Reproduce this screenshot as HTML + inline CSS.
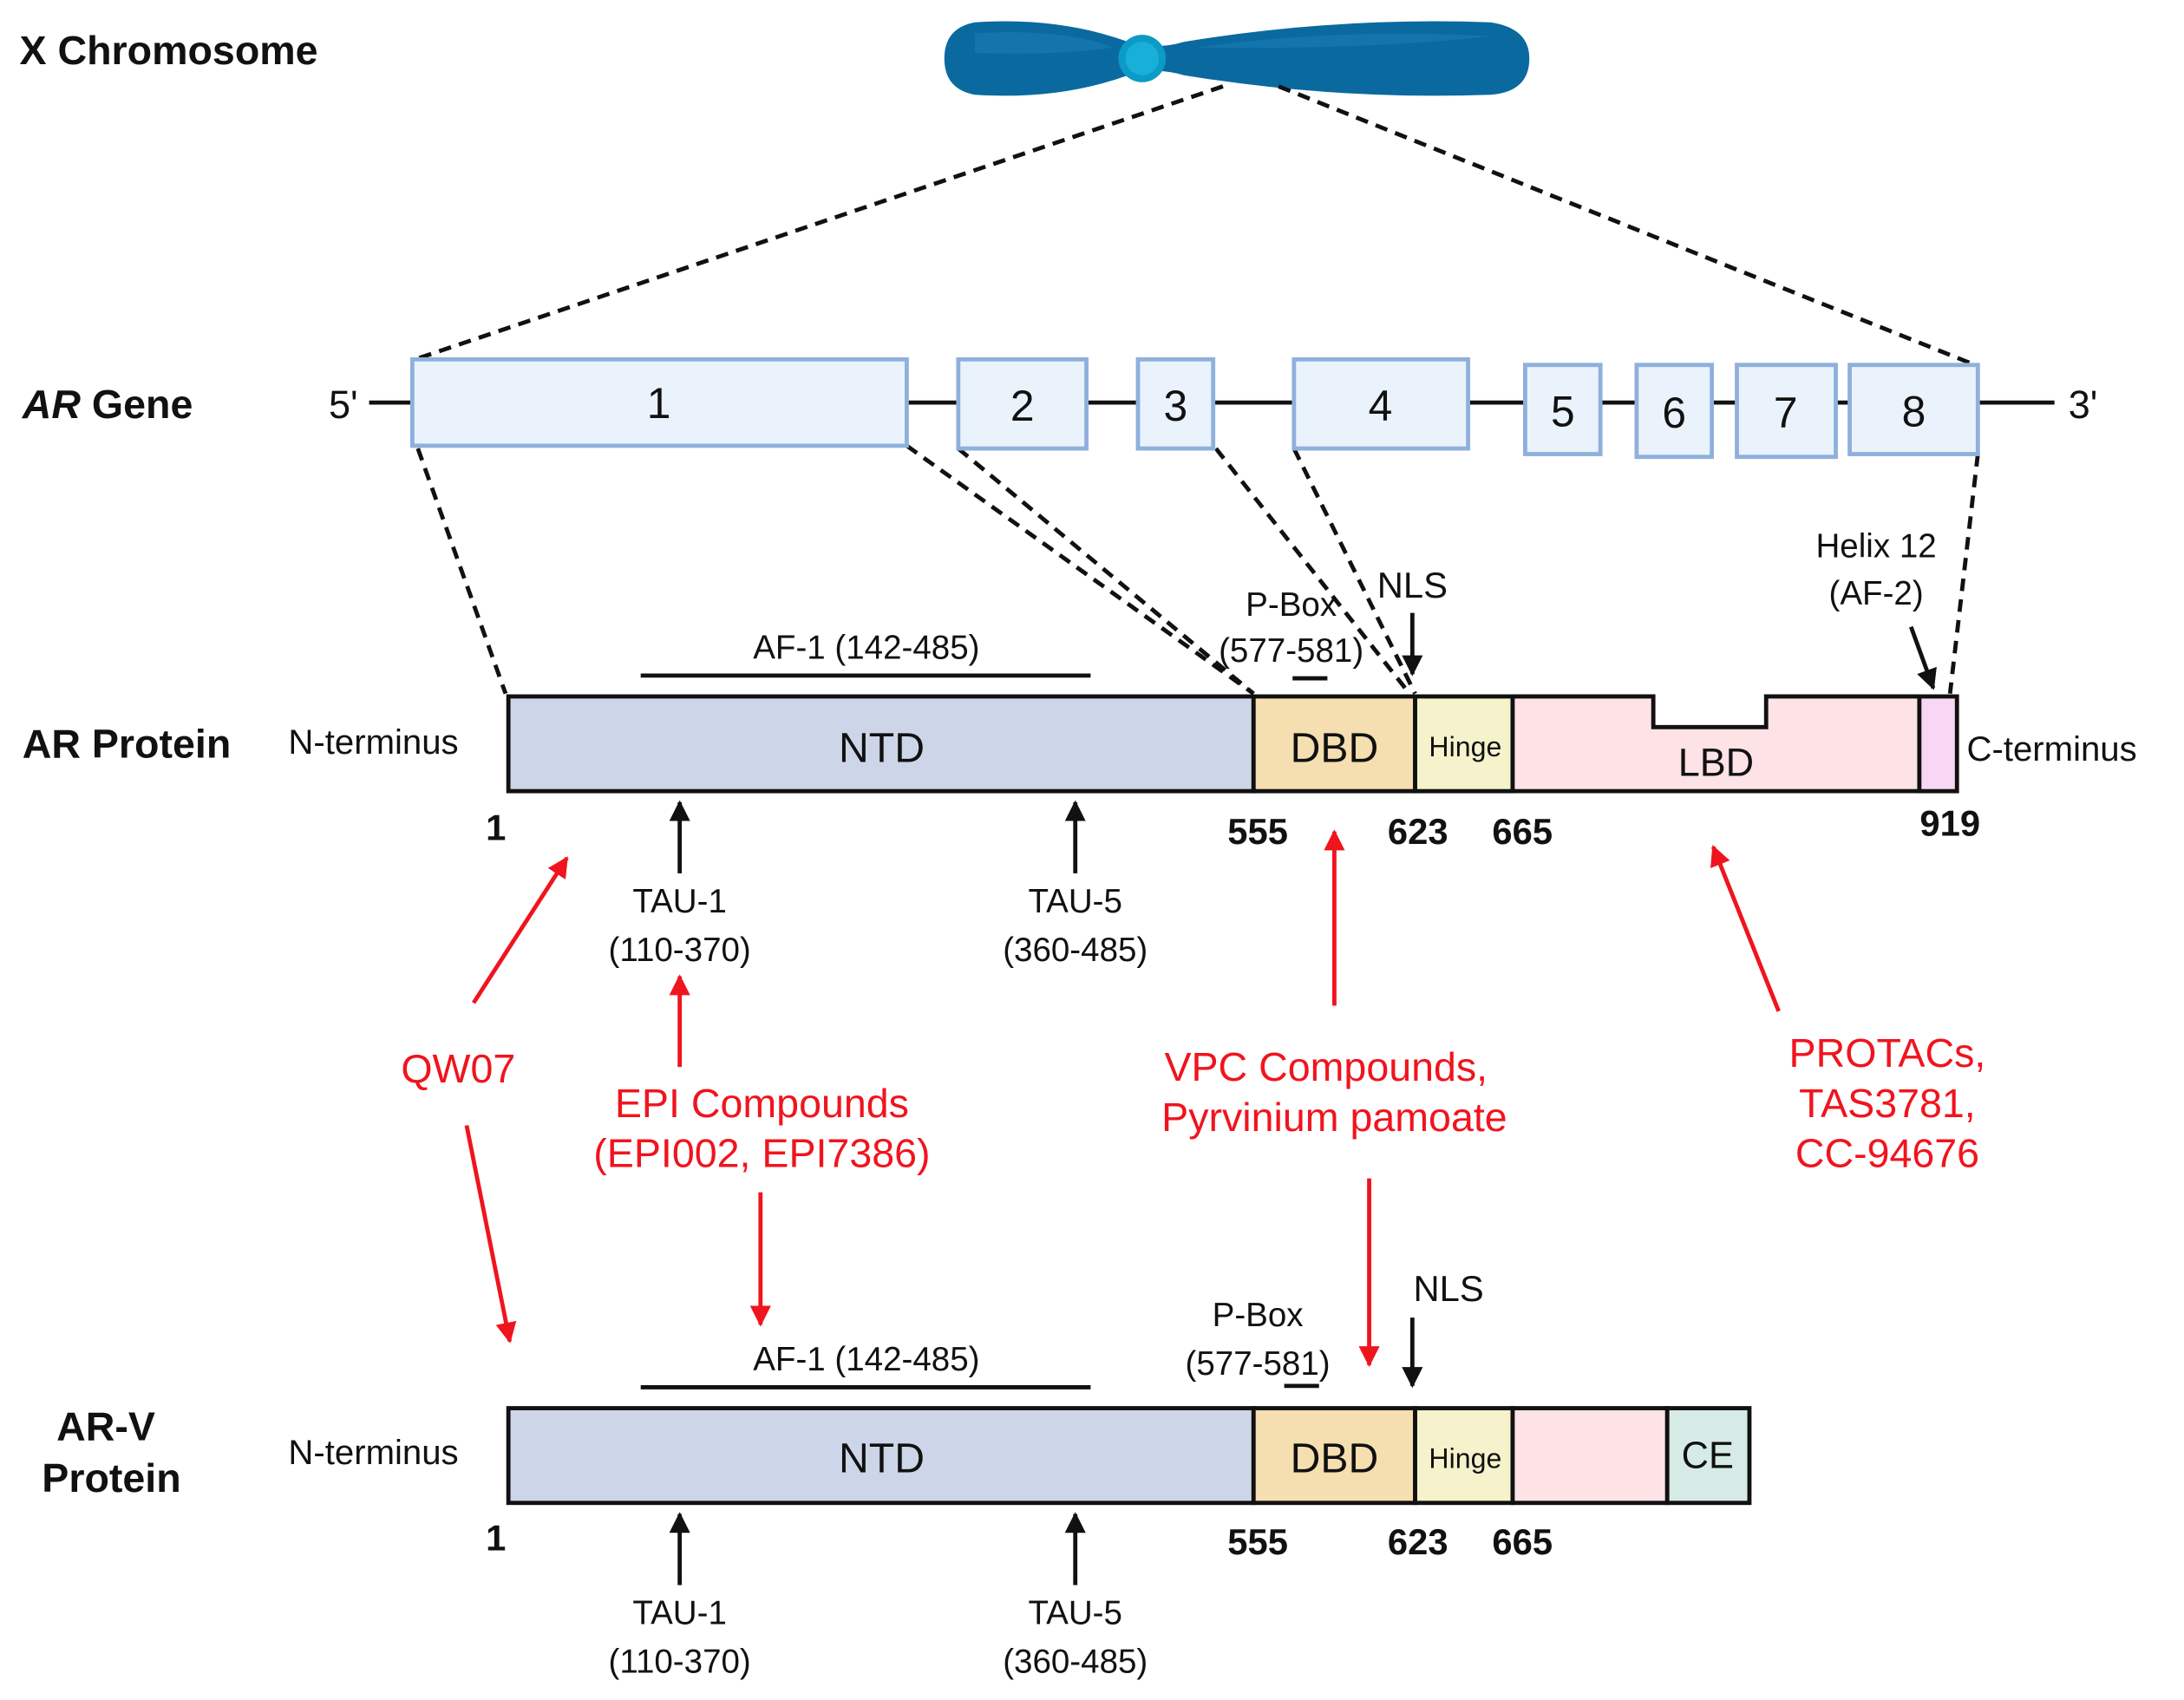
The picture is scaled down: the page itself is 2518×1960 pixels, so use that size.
<!DOCTYPE html>
<html><head><meta charset="utf-8"><style>
html,body{margin:0;padding:0;background:#fff}
svg{display:block}
text{font-family:"Liberation Sans",sans-serif}
</style></head><body>
<svg width="2518" height="1960" viewBox="0 0 1568 1220.5" xmlns="http://www.w3.org/2000/svg">
<defs>
<marker id="ak" viewBox="0 0 10 10" refX="9" refY="5" markerWidth="5" markerHeight="5" orient="auto"><path d="M0,0L10,5L0,10z" fill="#111"/></marker>
<marker id="ar" viewBox="0 0 10 10" refX="9" refY="5" markerWidth="5" markerHeight="5" orient="auto"><path d="M0,0L10,5L0,10z" fill="#f0141e"/></marker>
</defs>
<rect width="1568" height="1221" fill="#fff"/>
<!-- chromosome -->
<text x="14" y="46" font-size="29" font-weight="bold" fill="#111">X Chromosome</text>
<path d="M700,16 Q760,12 810,30 Q830,36 850,30 Q960,12 1070,16 Q1098,20 1098,42 Q1098,66 1070,68 Q960,72 850,54 Q830,48 810,54 Q760,72 700,68 Q678,64 678,42 Q678,20 700,16Z" fill="#0a6aa0"/>
<path d="M700,24 Q760,20 800,34 Q760,40 700,38Z M860,34 Q960,20 1070,26 Q980,36 860,34Z" fill="#1a7db5" opacity="0.6"/>
<circle cx="820" cy="42" r="17" fill="#0c9ac6"/>
<circle cx="820" cy="42" r="12" fill="#18b0d8"/>
<g stroke="#111" stroke-width="3" stroke-dasharray="9,6" fill="none">
<line x1="878" y1="62" x2="298" y2="258"/>
<line x1="918" y1="62" x2="1418" y2="262"/>
<line x1="300" y1="322" x2="363" y2="498"/>
<line x1="651" y1="320" x2="900" y2="498"/>
<line x1="688" y1="322" x2="900" y2="498"/>
<line x1="873" y1="322" x2="1012" y2="498"/>
<line x1="929" y1="322" x2="1016" y2="498"/>
<line x1="1420" y1="326" x2="1400" y2="498"/>
</g>
<!-- gene -->
<text x="16" y="300" font-size="29" font-weight="bold" fill="#111"><tspan font-style="italic">AR</tspan> Gene</text>
<text x="236" y="300" font-size="28" fill="#111">5'</text>
<text x="1485" y="300" font-size="28" fill="#111">3'</text>
<line x1="265" y1="289" x2="1475" y2="289" stroke="#111" stroke-width="3"/>
<g fill="#eaf2fc" stroke="#8fb0dc" stroke-width="3">
<rect x="296" y="258" width="355" height="62"/>
<rect x="688" y="258" width="92" height="64"/>
<rect x="817" y="258" width="54" height="64"/>
<rect x="929" y="258" width="125" height="64"/>
<rect x="1095" y="262" width="54" height="64"/>
<rect x="1175" y="262" width="54" height="66"/>
<rect x="1247" y="262" width="71" height="66"/>
<rect x="1328" y="262" width="92" height="64"/>
</g>
<g font-size="31" fill="#111" text-anchor="middle">
<text x="473" y="300">1</text><text x="734" y="302">2</text><text x="844" y="302">3</text><text x="991" y="302">4</text>
<text x="1122" y="306">5</text><text x="1202" y="307">6</text><text x="1282" y="307">7</text><text x="1374" y="306">8</text>
</g>
<!-- AR protein -->
<text x="16" y="544" font-size="29" font-weight="bold" fill="#111">AR Protein</text>
<text x="207" y="541" font-size="25" fill="#111">N-terminus</text>
<text x="1412" y="546" font-size="25" fill="#111">C-terminus</text>
<g stroke="#111" stroke-width="3">
<rect x="365" y="500" width="535" height="68" fill="#cdd6e8"/>
<rect x="900" y="500" width="116" height="68" fill="#f5deb0"/>
<rect x="1016" y="500" width="70" height="68" fill="#f5f2cc"/>
<path d="M1086,500 L1187,500 L1187,522 L1268,522 L1268,500 L1378,500 L1378,568 L1086,568Z" fill="#fde2e6"/>
<rect x="1378" y="500" width="27" height="68" fill="#f8d6f4"/>
<line x1="460" y1="485" x2="783" y2="485"/>
<line x1="928" y1="487" x2="953" y2="487"/>
</g>
<g fill="#111" text-anchor="middle">
<text x="633" y="547" font-size="30">NTD</text>
<text x="958" y="547" font-size="30">DBD</text>
<text x="1052" y="543" font-size="20">Hinge</text>
<text x="1232" y="557" font-size="28">LBD</text>
<text x="622" y="473" font-size="24">AF-1 (142-485)</text>
<text x="927" y="442" font-size="24">P-Box</text>
<text x="927" y="475" font-size="24">(577-581)</text>
<text x="1014" y="429" font-size="26">NLS</text>
<text x="1347" y="400" font-size="24">Helix 12</text>
<text x="1347" y="434" font-size="24">(AF-2)</text>
<g font-size="26" font-weight="bold">
<text x="356" y="603">1</text><text x="903" y="606">555</text><text x="1018" y="606">623</text><text x="1093" y="606">665</text><text x="1400" y="600">919</text>
</g>
<text x="488" y="655" font-size="24">TAU-1</text><text x="488" y="690" font-size="24">(110-370)</text>
<text x="772" y="655" font-size="24">TAU-5</text><text x="772" y="690" font-size="24">(360-485)</text>
</g>
<g stroke="#111" stroke-width="3">
<line x1="1014" y1="440" x2="1014" y2="484" marker-end="url(#ak)"/>
<line x1="1372" y1="450" x2="1388" y2="494" marker-end="url(#ak)"/>
<line x1="488" y1="627" x2="488" y2="576" marker-end="url(#ak)"/>
<line x1="772" y1="627" x2="772" y2="576" marker-end="url(#ak)"/>
</g>
<!-- red -->
<g fill="#f0141e" text-anchor="middle" font-size="29">
<text x="329" y="777">QW07</text>
<text x="547" y="802">EPI Compounds</text><text x="547" y="838">(EPI002, EPI7386)</text>
<text x="952" y="776">VPC Compounds,</text><text x="958" y="812">Pyrvinium pamoate</text>
<text x="1355" y="766">PROTACs,</text><text x="1355" y="802">TAS3781,</text><text x="1355" y="838">CC-94676</text>
</g>
<g stroke="#f0141e" stroke-width="3">
<line x1="340" y1="720" x2="407" y2="616" marker-end="url(#ar)"/>
<line x1="335" y1="808" x2="366" y2="963" marker-end="url(#ar)"/>
<line x1="488" y1="766" x2="488" y2="701" marker-end="url(#ar)"/>
<line x1="546" y1="856" x2="546" y2="951" marker-end="url(#ar)"/>
<line x1="958" y1="722" x2="958" y2="597" marker-end="url(#ar)"/>
<line x1="983" y1="846" x2="983" y2="980" marker-end="url(#ar)"/>
<line x1="1277" y1="726" x2="1230" y2="608" marker-end="url(#ar)"/>
</g>
<!-- AR-V -->
<text x="76" y="1034" font-size="29" font-weight="bold" fill="#111" text-anchor="middle">AR-V</text>
<text x="80" y="1071" font-size="29" font-weight="bold" fill="#111" text-anchor="middle">Protein</text>
<text x="207" y="1051" font-size="25" fill="#111">N-terminus</text>
<g stroke="#111" stroke-width="3">
<rect x="365" y="1011" width="535" height="68" fill="#cdd6e8"/>
<rect x="900" y="1011" width="116" height="68" fill="#f5deb0"/>
<rect x="1016" y="1011" width="70" height="68" fill="#f5f2cc"/>
<rect x="1086" y="1011" width="111" height="68" fill="#fde2e6"/>
<rect x="1197" y="1011" width="59" height="68" fill="#d6ebe6"/>
<line x1="460" y1="996" x2="783" y2="996"/>
<line x1="922" y1="995" x2="947" y2="995"/>
<line x1="1014" y1="946" x2="1014" y2="995" marker-end="url(#ak)"/>
<line x1="488" y1="1138" x2="488" y2="1087" marker-end="url(#ak)"/>
<line x1="772" y1="1138" x2="772" y2="1087" marker-end="url(#ak)"/>
</g>
<g fill="#111" text-anchor="middle">
<text x="633" y="1057" font-size="30">NTD</text>
<text x="958" y="1057" font-size="30">DBD</text>
<text x="1052" y="1054" font-size="20">Hinge</text>
<text x="1226" y="1054" font-size="27">CE</text>
<text x="622" y="984" font-size="24">AF-1 (142-485)</text>
<text x="903" y="952" font-size="24">P-Box</text>
<text x="903" y="987" font-size="24">(577-581)</text>
<text x="1040" y="934" font-size="26">NLS</text>
<g font-size="26" font-weight="bold">
<text x="356" y="1113">1</text><text x="903" y="1116">555</text><text x="1018" y="1116">623</text><text x="1093" y="1116">665</text>
</g>
<text x="488" y="1166" font-size="24">TAU-1</text><text x="488" y="1201" font-size="24">(110-370)</text>
<text x="772" y="1166" font-size="24">TAU-5</text><text x="772" y="1201" font-size="24">(360-485)</text>
</g>
</svg>
</body></html>
